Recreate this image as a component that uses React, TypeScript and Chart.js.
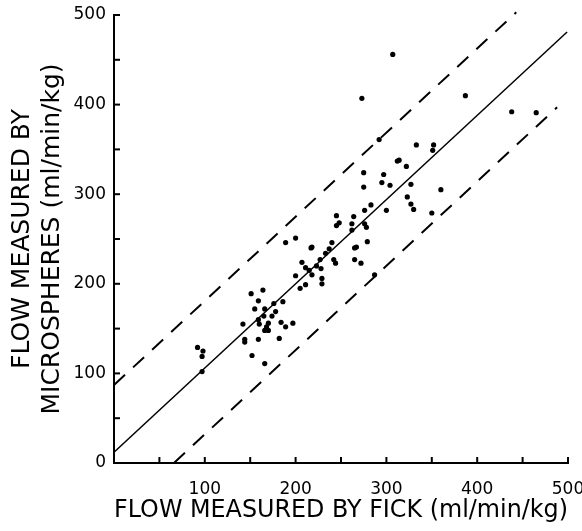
import React, { useEffect, useRef } from 'react';
import { Chart, registerables } from 'chart.js';

Chart.register(...registerables);

// Flow measured by Fick (x) and by microspheres (y), ml/min/kg
const fickFlow = [
  189, 151, 164, 159, 155, 166, 176, 186, 178, 174,
  165, 159, 160, 170, 168, 166, 170, 184, 189, 142,
  144, 144, 159, 182, 152, 166, 92, 98, 97, 97,
  197, 275, 275, 283, 276, 245, 248, 245, 264, 262,
  262, 276, 278, 279, 200, 218, 217, 240, 237, 233,
  267, 265, 207, 227, 242, 244, 265, 272, 211, 215,
  223, 228, 218, 200, 229, 229, 211, 205, 287, 292,
  333, 352, 351, 314, 312, 322, 297, 295, 304, 327,
  360, 323, 327, 330, 350, 300, 273, 307, 387, 438,
  465,
];
const microsphereFlow = [
  246, 189, 193, 181, 172, 172, 178, 180, 169, 164,
  164, 160, 155, 156, 152, 148, 148, 157, 152, 155,
  138, 135, 138, 139, 120, 111, 129, 125, 119, 102,
  156, 324, 308, 288, 282, 276, 268, 265, 275, 267,
  260, 267, 263, 247, 251, 241, 240, 246, 239, 234,
  241, 240, 224, 227, 227, 223, 227, 223, 218, 215,
  220, 217, 210, 209, 206, 200, 199, 195, 210, 361,
  355, 355, 349, 338, 337, 331, 322, 313, 310, 311,
  305, 297, 289, 283, 279, 282, 407, 456, 410, 392,
  391,
];

// Regression line and limits (endpoints)
const regressionX = [0, 499];
const regressionY = [12, 481];
const upperLimitX = [0, 443];
const upperLimitY = [87, 503];
const lowerLimitX = [66, 488];
const lowerLimitY = [0, 397];

// Axis ticks
const axisMin = 0;
const axisMax = 500;
const labelStep = 100;
const minorTickValues = [50, 100, 150, 200, 250, 300, 350, 400, 450, 500];

const FONT = "'DejaVu Sans', 'Liberation Sans', sans-serif";

const toPoints = (xs: number[], ys: number[]) => xs.map((x, i) => ({ x, y: ys[i] }));

const inwardTicks = {
  id: 'inwardTicks',
  afterDatasetsDraw(chart: any) {
    const { ctx, scales } = chart;
    const xs = scales.x;
    const ys = scales.y;
    const x0 = xs.getPixelForValue(axisMin);
    const y0 = ys.getPixelForValue(axisMin);
    ctx.save();
    ctx.strokeStyle = '#000';
    ctx.lineWidth = 2;
    for (const v of minorTickValues) {
      const py = ys.getPixelForValue(v);
      ctx.beginPath();
      ctx.moveTo(x0, py);
      ctx.lineTo(x0 + 6, py);
      ctx.stroke();
      const px = xs.getPixelForValue(v);
      ctx.beginPath();
      ctx.moveTo(px, y0);
      ctx.lineTo(px, y0 - 6);
      ctx.stroke();
    }
    ctx.restore();
  },
};

export default function App() {
  const canvasRef = useRef<HTMLCanvasElement | null>(null);

  useEffect(() => {
    if (!canvasRef.current) return;
    const chart = new Chart(canvasRef.current, {
      type: 'scatter',
      data: {
        datasets: [
          {
            data: toPoints(fickFlow, microsphereFlow),
            pointRadius: 2.6,
            pointBackgroundColor: '#000',
            pointBorderWidth: 0,
            showLine: false,
          },
          {
            data: toPoints(regressionX, regressionY),
            showLine: true,
            pointRadius: 0,
            borderColor: '#000',
            borderWidth: 1.5,
          },
          {
            data: toPoints(upperLimitX, upperLimitY),
            showLine: true,
            pointRadius: 0,
            borderColor: '#000',
            borderWidth: 2,
            borderDash: [15, 11],
            clip: false,
          },
          {
            data: toPoints(lowerLimitX, lowerLimitY),
            showLine: true,
            pointRadius: 0,
            borderColor: '#000',
            borderWidth: 2,
            borderDash: [15, 11],
          },
        ],
      },
      options: {
        animation: false,
        responsive: false,
        devicePixelRatio: 1,
        layout: { padding: { left: 0, right: 14, top: 15, bottom: 0 } },
        plugins: {
          legend: { display: false },
          tooltip: { enabled: false },
        },
        scales: {
          x: {
            type: 'linear',
            position: 'bottom',
            min: axisMin,
            max: axisMax,
            grid: { display: false },
            border: { display: true, color: '#000', width: 2 },
            ticks: {
              stepSize: labelStep,
              color: '#000',
              font: { family: FONT, size: 17 },
              padding: 8,
              maxRotation: 0,
              autoSkip: false,
              callback: (v: any) => (v === 0 ? '' : String(v)),
            },
            title: {
              display: true,
              text: 'FLOW MEASURED BY FICK (ml/min/kg)',
              color: '#000',
              font: { family: FONT, size: 25, lineHeight: 1.2 },
              padding: { top: 0, bottom: 6 },
            },
            afterFit: (s: any) => {
              s.height = 68;
              s.paddingLeft = 0;
              s.paddingRight = 0;
            },
          },
          y: {
            type: 'linear',
            position: 'left',
            min: axisMin,
            max: axisMax,
            grid: { display: false },
            border: { display: true, color: '#000', width: 2 },
            ticks: {
              stepSize: labelStep,
              color: '#000',
              font: { family: FONT, size: 17 },
              padding: 0,
              autoSkip: false,
            },
            title: {
              display: true,
              text: ['FLOW MEASURED BY', 'MICROSPHERES (ml/min/kg)'],
              color: '#000',
              font: { family: FONT, size: 25, lineHeight: 1.2 },
              padding: { top: 7, bottom: 0 },
            },
            afterFit: (s: any) => {
              s.width = 114;
              s.paddingTop = 0;
              s.paddingBottom = 0;
            },
          },
        },
      } as any,
      plugins: [inwardTicks],
    });
    return () => chart.destroy();
  }, []);

  return (
    <div style={{ position: 'absolute', left: 0, top: 0, width: 582, height: 531, background: '#fff' }}>
      <canvas ref={canvasRef} width={582} height={531} style={{ display: 'block' }} />
    </div>
  );
}
